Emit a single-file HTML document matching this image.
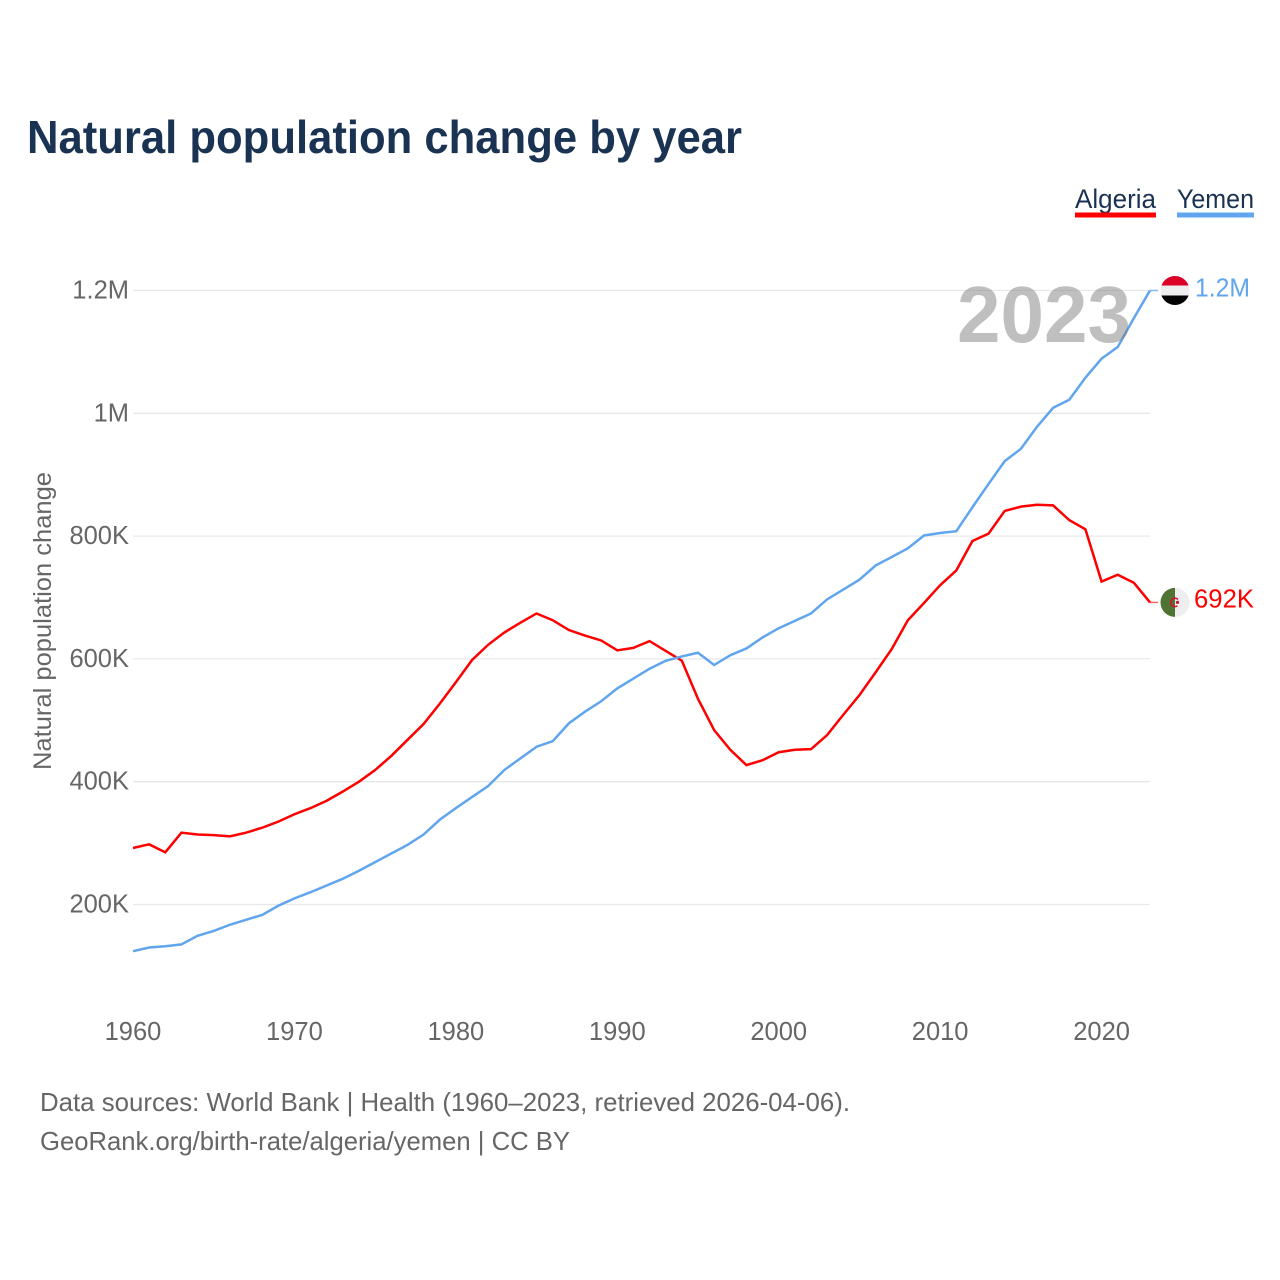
<!DOCTYPE html>
<html lang="en">
<head>
<meta charset="utf-8">
<title>Natural population change by year</title>
<style>
html,body{margin:0;padding:0;background:#fff;width:1280px;height:1280px;overflow:hidden}
svg{display:block;font-family:"Liberation Sans",sans-serif}
</style>
</head>
<body>
<svg id="chart" xmlns="http://www.w3.org/2000/svg" width="1280" height="1280" viewBox="0 0 1280 1280">
  <defs>
    <clipPath id="flag-clip"><circle cx="0" cy="0" r="14.5"/></clipPath>
  </defs>
  <rect width="1280" height="1280" fill="#fff"/>
  <text x="27" y="153" font-size="46" font-weight="700" fill="#1a3352" textLength="715" lengthAdjust="spacingAndGlyphs">Natural population change by year</text>

  <g>
    <g>
      <text x="1075" y="208" font-size="27" fill="#1a3352" textLength="81" lengthAdjust="spacingAndGlyphs">Algeria</text>
      <rect x="1075" y="212.5" width="81" height="5" fill="#ff0000"/>
    </g>
    <g>
      <text x="1177" y="208" font-size="27" fill="#1a3352" textLength="77" lengthAdjust="spacingAndGlyphs">Yemen</text>
      <rect x="1177" y="212.5" width="77" height="5" fill="#60a5ee"/>
    </g>
  </g>

  <g id="grid"></g>
  <g id="y-axis"></g>
  <g id="x-axis"></g>
  <text transform="translate(51,770) rotate(-90)" font-size="25" fill="#666" textLength="298" lengthAdjust="spacingAndGlyphs">Natural population change</text>

  <g id="series"></g>

  <g id="flag-yemen">
    <g clip-path="url(#flag-clip)">
      <rect x="-15" y="-15" width="30" height="10" fill="#dc0028"/>
      <rect x="-15" y="-5" width="30" height="10" fill="#eeeeee"/>
      <rect x="-15" y="5" width="30" height="10" fill="#000"/>
    </g>
  </g>
  <g id="flag-algeria">
    <g clip-path="url(#flag-clip)">
      <rect x="-15" y="-15" width="15" height="30" fill="#4f7332"/>
      <rect x="0" y="-15" width="15" height="30" fill="#eeeeee"/>
      <circle cx="0" cy="0" r="4.2" fill="none" stroke="#d21034" stroke-width="1.6" stroke-dasharray="19 8" stroke-dashoffset="-4"/>
      <circle cx="2.5" cy="0" r="1.6" fill="#d21034"/>
    </g>
  </g>
  <text id="value-yemen" x="1195" font-size="26" fill="#60a5ee" textLength="55" lengthAdjust="spacingAndGlyphs"></text>
  <text id="value-algeria" x="1194" font-size="26" fill="#ff0000" textLength="60" lengthAdjust="spacingAndGlyphs"></text>

  <text x="957" y="342" font-size="80" font-weight="700" fill="#808080" fill-opacity="0.5" textLength="174" lengthAdjust="spacingAndGlyphs">2023</text>

  <g>
    <text x="40" y="1111" font-size="26" fill="#666" textLength="810" lengthAdjust="spacingAndGlyphs">Data sources: World Bank | Health (1960–2023, retrieved 2026-04-06).</text>
    <text x="40" y="1150" font-size="26" fill="#666" textLength="530" lengthAdjust="spacingAndGlyphs">GeoRank.org/birth-rate/algeria/yemen | CC BY</text>
  </g>
</svg>
<script>
// Natural population change, thousands of people per year, 1960..2023
const startYear = 1960;
const algeria = [292,298,285,317,314,313,311,317,325,335,347,357,369,384,400,419,442,468,494,527,562,598,623,643,659,674,663,647,638,630,614,618,629,613,597,535,484,452,427,435,448,452,453,476,509,541,578,616,663,691,720,744,792,804,841,848,851,850,826,811,726,737,724,692];
const yemen = [124,130,132,135,149,157,167,175,183,198,210,220,231,242,255,269,283,297,314,338,357,375,393,419,438,457,466,495,514,531,552,568,584,597,604,610,590,606,617,635,650,662,674,697,713,729,752,766,780,801,805,808,847,885,922,942,978,1009,1022,1058,1089,1108,1155,1200];
const yTicks = [200,400,600,800,1000,1200];
const yTickLabels = ["200K","400K","600K","800K","1M","1.2M"];
const xTicks = [1960,1970,1980,1990,2000,2010,2020];

const NS = "http://www.w3.org/2000/svg";
const plotLeft = 133, plotRight = 1150;
const lastYear = startYear + algeria.length - 1;
function xScale(year){ return plotLeft + (year - startYear) * (plotRight - plotLeft) / (lastYear - startYear); }
function yScale(k){ return 904.5 - (k - 200) * 0.614; }
function fmt(k){
  if (k >= 1000) { return (Math.round(k / 100) / 10) + "M"; }
  return Math.round(k) + "K";
}

const gridG = document.getElementById("grid");
const yG = document.getElementById("y-axis");
const xG = document.getElementById("x-axis");
const seriesG = document.getElementById("series");

yTicks.forEach(function(t, i){
  const line = document.createElementNS(NS, "line");
  
  
  line.setAttribute("x1", plotLeft);
  line.setAttribute("x2", plotRight);
  line.setAttribute("y1", yScale(t));
  line.setAttribute("y2", yScale(t));
  line.setAttribute("stroke", "#e8e8e8");
  line.setAttribute("stroke-width", "1.3");
  gridG.appendChild(line);

  const label = document.createElementNS(NS, "text");
  
  
  label.setAttribute("x", 129);
  label.setAttribute("y", yScale(t) + 8);
  label.setAttribute("text-anchor", "end");
  label.setAttribute("font-size", "25.5");
  label.setAttribute("fill", "#666");
  label.textContent = yTickLabels[i];
  yG.appendChild(label);
});

xTicks.forEach(function(t){
  const label = document.createElementNS(NS, "text");
  
  
  label.setAttribute("x", xScale(t));
  label.setAttribute("y", 1040);
  label.setAttribute("text-anchor", "middle");
  label.setAttribute("font-size", "25.5");
  label.setAttribute("fill", "#666");
  label.textContent = t;
  xG.appendChild(label);
});

function seriesPath(values){
  return values.map(function(v, i){
    return (i ? "L" : "M") + xScale(startYear + i).toFixed(2) + " " + yScale(v).toFixed(2);
  }).join(" ");
}

const algeriaLine = document.createElementNS(NS, "path");


algeriaLine.setAttribute("d", seriesPath(algeria));
algeriaLine.setAttribute("fill", "none");
algeriaLine.setAttribute("stroke", "#ff0000");
algeriaLine.setAttribute("stroke-width", "2.5");
seriesG.appendChild(algeriaLine);

const yemenLine = document.createElementNS(NS, "path");


yemenLine.setAttribute("d", seriesPath(yemen));
yemenLine.setAttribute("fill", "none");
yemenLine.setAttribute("stroke", "#60a5ee");
yemenLine.setAttribute("stroke-width", "2.5");
seriesG.appendChild(yemenLine);

const algeriaEnd = algeria[algeria.length - 1];
const yemenEnd = yemen[yemen.length - 1];

const algeriaTail = document.createElementNS(NS, "line");


algeriaTail.setAttribute("x1", xScale(lastYear));
algeriaTail.setAttribute("x2", xScale(lastYear) + 8);
algeriaTail.setAttribute("y1", yScale(algeriaEnd));
algeriaTail.setAttribute("y2", yScale(algeriaEnd));
algeriaTail.setAttribute("stroke", "#ff0000");
algeriaTail.setAttribute("stroke-opacity", "0.6");
algeriaTail.setAttribute("stroke-width", "1.5");
seriesG.appendChild(algeriaTail);

const yemenTail = document.createElementNS(NS, "line");


yemenTail.setAttribute("x1", xScale(lastYear));
yemenTail.setAttribute("x2", xScale(lastYear) + 8);
yemenTail.setAttribute("y1", yScale(yemenEnd));
yemenTail.setAttribute("y2", yScale(yemenEnd));
yemenTail.setAttribute("stroke", "#60a5ee");
yemenTail.setAttribute("stroke-opacity", "0.8");
yemenTail.setAttribute("stroke-width", "1.5");
seriesG.appendChild(yemenTail);

const flagX = xScale(lastYear) + 25;
document.getElementById("flag-yemen").setAttribute("transform", "translate(" + flagX + "," + yScale(yemenEnd) + ")");
document.getElementById("flag-algeria").setAttribute("transform", "translate(" + flagX + "," + yScale(algeriaEnd) + ")");

const valueYemen = document.getElementById("value-yemen");
valueYemen.setAttribute("y", yScale(yemenEnd) + 6);
valueYemen.textContent = fmt(yemenEnd);
const valueAlgeria = document.getElementById("value-algeria");
valueAlgeria.setAttribute("y", yScale(algeriaEnd) + 5);
valueAlgeria.textContent = fmt(algeriaEnd);
</script>
</body>
</html>
